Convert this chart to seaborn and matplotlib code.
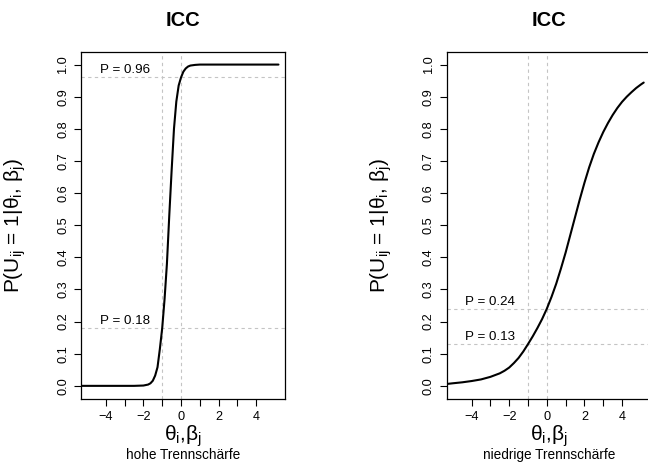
import numpy as np
import pandas as pd
import matplotlib
matplotlib.use("Agg")
import matplotlib.pyplot as plt
import seaborn as sns

# curve points
theta_hoch = [-5.3, -2.5, -2.0, -1.75, -1.625, -1.5, -1.375, -1.25, -1.125, -1.0,
              -0.875, -0.75, -0.625, -0.5, -0.375, -0.25, -0.125, 0.0, 0.125,
              0.25, 0.375, 0.5, 0.75, 1.0, 5.18]
p_hoch = [0.0, 0.0, 0.001, 0.004, 0.008, 0.016, 0.032, 0.058, 0.115, 0.18,
          0.27, 0.38, 0.53, 0.67, 0.80, 0.885, 0.935, 0.96, 0.978,
          0.988, 0.994, 0.997, 0.999, 1.0, 1.0]

theta_niedrig = [-5.3, -5.0, -4.5, -4.0, -3.5, -3.0, -2.5, -2.25, -2.0, -1.75,
                 -1.5, -1.25, -1.0, -0.75, -0.5, -0.25, 0.0, 0.25, 0.5, 0.75,
                 1.0, 1.25, 1.5, 1.75, 2.0, 2.25, 2.5, 2.75, 3.0, 3.25,
                 3.5, 3.75, 4.0, 4.25, 4.5, 4.75, 5.0, 5.15]
p_niedrig = [0.006, 0.008, 0.011, 0.015, 0.020, 0.028, 0.039, 0.047, 0.057, 0.071,
             0.087, 0.107, 0.130, 0.154, 0.180, 0.208, 0.240, 0.277, 0.318, 0.365,
             0.415, 0.470, 0.525, 0.580, 0.632, 0.680, 0.722, 0.758, 0.790, 0.818,
             0.843, 0.865, 0.884, 0.900, 0.914, 0.927, 0.938, 0.944]

# reference lines
v_lines = [-1, 0]
p_marks_hoch = [0.96, 0.18]
p_marks_niedrig = [0.24, 0.13]
subtitles = ["hohe Trennschärfe", "niedrige Trennschärfe"]

sns.set_style("white")
plt.rcParams['font.family'] = ['Liberation Sans', 'DejaVu Sans']
plt.rcParams['mathtext.fontset'] = 'custom'
plt.rcParams['mathtext.rm'] = 'Liberation Sans'
plt.rcParams['mathtext.it'] = 'Liberation Sans'
plt.rcParams['text.color'] = 'black'
plt.rcParams['axes.labelcolor'] = 'black'

fig = plt.figure(figsize=(6.48, 4.66), dpi=100)
w, h = 0.3144, 0.7446
ax1 = fig.add_axes([0.1255, 0.1444, w, h])
ax2 = fig.add_axes([0.690, 0.1444, w, h])

panels = [(ax1, theta_hoch, p_hoch, p_marks_hoch, subtitles[0]),
          (ax2, theta_niedrig, p_niedrig, p_marks_niedrig, subtitles[1])]

for ax, xs, ys, marks, sub in panels:
    df = pd.DataFrame({'theta': xs, 'p': ys})
    for v in v_lines:
        ax.axvline(v, color='#c4c4c4', lw=0.8, ls=(0, (3, 3)), zorder=1)
    for m in marks:
        ax.axhline(m, color='#c4c4c4', lw=0.8, ls=(0, (3, 3)), zorder=1)
        ax.annotate(f"P = {m:.2f}", xy=(-3, m), xytext=(0, 3),
                    textcoords='offset points', ha='center', va='baseline',
                    fontsize=9.6)
    sns.lineplot(data=df, x='theta', y='p', ax=ax, color='black', lw=1.5,
                 estimator=None, sort=False, zorder=3)

    ax.set_xlim(-5.3, 5.53)
    ax.set_ylim(-0.04, 1.04)
    ax.set_xticks(range(-4, 5))
    ax.set_xticklabels([('\u2212' + str(-t) if t < 0 else str(t)) if t % 2 == 0 else ''
                        for t in range(-4, 5)])
    yt = np.round(np.arange(0, 1.01, 0.1), 1)
    ax.set_yticks(yt)
    ax.set_yticklabels([f"{t:.1f}" for t in yt], rotation=90, va='center')
    ax.tick_params(bottom=True, left=True, direction='out', length=4.8,
                   width=0.8, pad=4, labelsize=9.2, color='black',
                   labelcolor='black')
    for s in ax.spines.values():
        s.set_color('black')
        s.set_linewidth(0.9)

    ax.set_xlabel('')
    ax.set_ylabel('P(U$_{ij}$ = 1|θ$_i$, β$_j$)', fontsize=15)
    ax.yaxis.set_label_coords(-0.262, 0.5)
    ax.text(0.5, -0.107, 'θ$_i$,β$_j$', transform=ax.transAxes,
            ha='center', va='center', fontsize=15)
    ax.text(0.5, -0.163, sub, transform=ax.transAxes, ha='center', va='center',
            fontsize=9.8)
    ax.text(0.5, 1.091, 'ICC', transform=ax.transAxes, ha='center', va='center',
            fontsize=14.5, fontweight='bold')

fig.savefig('out.png', dpi=100)
